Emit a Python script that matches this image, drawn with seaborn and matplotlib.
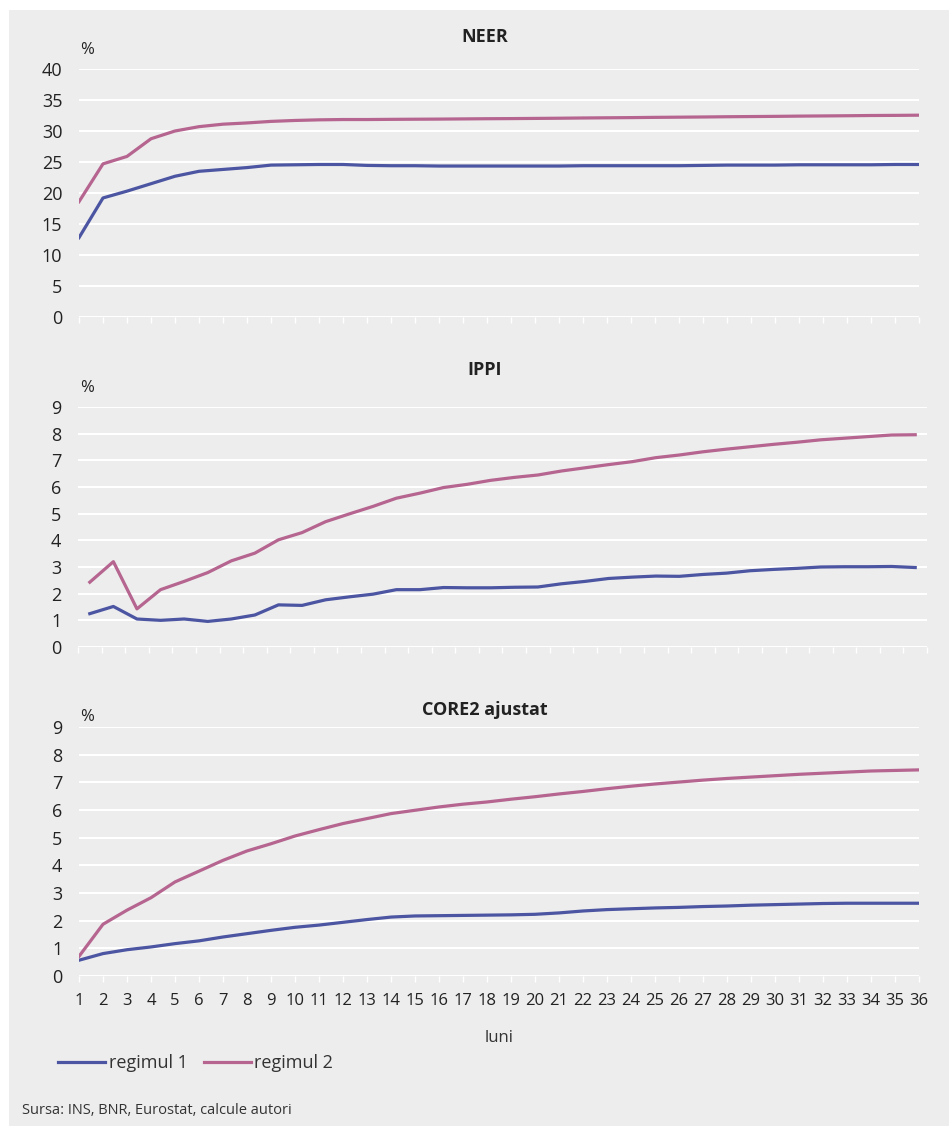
import numpy as np
import pandas as pd
import matplotlib.pyplot as plt
import seaborn as sns

# luni 1..36
luni = list(range(1, 37))

neer_r1 = [12.8, 19.2, 20.3, 21.5, 22.7, 23.5, 23.8, 24.1, 24.5, 24.55, 24.6, 24.6,
           24.45, 24.4, 24.4, 24.35, 24.35, 24.35, 24.35, 24.35, 24.35, 24.4, 24.4, 24.4,
           24.4, 24.4, 24.45, 24.5, 24.5, 24.5, 24.55, 24.55, 24.55, 24.55, 24.6, 24.6]
neer_r2 = [18.6, 24.7, 25.9, 28.75, 30.0, 30.7, 31.1, 31.3, 31.55, 31.7, 31.8, 31.85,
           31.85, 31.88, 31.9, 31.92, 31.95, 31.98, 32.0, 32.03, 32.06, 32.1, 32.13, 32.16,
           32.2, 32.23, 32.26, 32.3, 32.33, 32.36, 32.4, 32.43, 32.46, 32.5, 32.52, 32.55]

ippi_r1 = [1.25, 1.52, 1.05, 1.0, 1.05, 0.96, 1.05, 1.2, 1.58, 1.56, 1.77, 1.88,
           1.98, 2.15, 2.15, 2.23, 2.22, 2.22, 2.24, 2.25, 2.37, 2.46, 2.57, 2.62,
           2.66, 2.65, 2.72, 2.77, 2.86, 2.91, 2.95, 3.0, 3.01, 3.01, 3.02, 2.98]
ippi_r2 = [2.43, 3.2, 1.43, 2.15, 2.46, 2.79, 3.23, 3.52, 4.02, 4.29, 4.7, 4.99,
           5.27, 5.58, 5.77, 5.98, 6.1, 6.25, 6.36, 6.45, 6.6, 6.72, 6.84, 6.95,
           7.1, 7.2, 7.32, 7.42, 7.51, 7.6, 7.68, 7.77, 7.83, 7.89, 7.95, 7.96]

core_r1 = [0.57, 0.81, 0.95, 1.05, 1.17, 1.27, 1.41, 1.53, 1.65, 1.76, 1.84, 1.94,
           2.04, 2.13, 2.17, 2.18, 2.19, 2.2, 2.21, 2.23, 2.28, 2.35, 2.4, 2.43,
           2.46, 2.48, 2.51, 2.53, 2.56, 2.58, 2.6, 2.62, 2.63, 2.63, 2.63, 2.63]
core_r2 = [0.71, 1.87, 2.38, 2.83, 3.4, 3.79, 4.18, 4.52, 4.78, 5.06, 5.29, 5.51,
           5.69, 5.87, 5.99, 6.11, 6.21, 6.29, 6.39, 6.48, 6.58, 6.67, 6.77, 6.86,
           6.94, 7.01, 7.08, 7.14, 7.19, 7.24, 7.29, 7.33, 7.37, 7.41, 7.43, 7.45]

panels = [("NEER", neer_r1, neer_r2, 40, 5),
          ("IPPI", ippi_r1, ippi_r2, 9, 1),
          ("CORE2 ajustat", core_r1, core_r2, 9, 1)]

culori = {"regimul 1": "#4b55a1", "regimul 2": "#b5658f"}
BG = "#ededed"
W, H = 949, 1126

plt.rcParams["font.family"] = ["Open Sans", "DejaVu Sans"]
tickfont = ["Liberation Sans Narrow", "Open Sans", "DejaVu Sans"]

fig = plt.figure(figsize=(W / 100, H / 100), dpi=100, facecolor="white")
fig.patches.append(plt.Rectangle((9 / W, 0), 1, 1 - 10 / H, transform=fig.transFigure,
                                 facecolor=BG, edgecolor="none", zorder=-10))

def box(x0, y0, x1, y1):
    return [x0 / W, 1 - y1 / H, (x1 - x0) / W, (y1 - y0) / H]

boxes = [box(79, 69, 919, 317), box(78, 407, 927, 647), box(79, 727, 919, 976)]
titluri_y = [37, 370, 710]
procent_y = [50, 388, 717]

for i, (titlu, r1, r2, ymax, pas) in enumerate(panels):
    ax = fig.add_axes(boxes[i])
    ax.set_facecolor(BG)
    df = pd.DataFrame({"luna": luni * 2, "val": r1 + r2,
                       "regim": ["regimul 1"] * 36 + ["regimul 2"] * 36})
    sns.lineplot(data=df, x="luna", y="val", hue="regim", palette=culori,
                 linewidth=2.3, ax=ax, legend=False)
    ax.set_ylim(0, ymax)
    ax.set_yticks(np.arange(0, ymax + 0.01, pas))
    if i == 1:
        ax.set_xlim(0.5, 36.5)
        ax.set_xticks(np.arange(0.5, 37, 1))
    else:
        ax.set_xlim(1, 36)
        ax.set_xticks(luni)
    ax.grid(axis="y", color="white", linewidth=1.5)
    ax.set_axisbelow(True)
    for s in ax.spines.values():
        s.set_visible(False)
    ax.tick_params(axis="y", length=0, pad=12, labelsize=13, labelcolor="#222222")
    ax.tick_params(axis="x", direction="out", length=4, width=1, color="white",
                   labelsize=12, labelcolor="#222222", pad=8)
    for lab in ax.get_yticklabels() + ax.get_xticklabels():
        lab.set_family(tickfont)
    ax.set_ylabel("")
    if i < 2:
        ax.set_xticklabels([])
        ax.set_xlabel("")
    else:
        ax.set_xlabel("luni", fontsize=12, color="#333333", labelpad=15)
    fig.text(485 / W, 1 - titluri_y[i] / H, titlu, ha="center", va="center",
             fontsize=13, fontweight="bold", color="#222222")
    fig.text(80 / W, 1 - procent_y[i] / H, "%", ha="left", va="center",
             fontsize=12, color="#222222", family=tickfont)

handles = [plt.Line2D([], [], color=culori[k], linewidth=2.3) for k in culori]
fig.legend(handles, list(culori), loc="center left", bbox_to_anchor=(58 / W, 1 - 1063 / H),
           ncol=2, frameon=False, fontsize=13, handlelength=2.6, handletextpad=0.2,
           columnspacing=0.9, borderpad=0, borderaxespad=0, labelcolor="#333333")

fig.text(22 / W, 1 - 1111 / H, "Sursa: INS, BNR, Eurostat, calcule autori",
         ha="left", va="center", fontsize=10.5, color="#333333")

fig.savefig("out.png", dpi=100, facecolor=fig.get_facecolor())
